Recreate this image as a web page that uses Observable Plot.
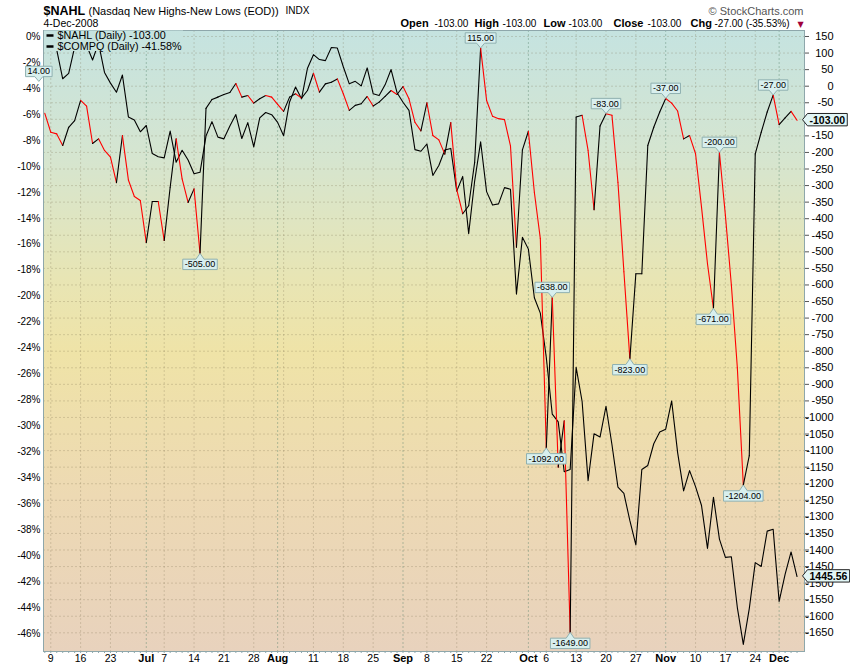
<!DOCTYPE html>
<html><head><meta charset="utf-8">
<script src="https://cdn.jsdelivr.net/npm/d3@7"></script>
<script src="https://cdn.jsdelivr.net/npm/@observablehq/plot@0.6"></script>
<style>
body{margin:0;background:#fff;}
#chart svg{display:block;}
</style>
</head><body><div id="chart"></div>
<script>
// ---------- DATA ----------
const tradingDays = [
"06-06","06-09","06-10","06-11","06-12","06-13","06-16","06-17","06-18","06-19","06-20","06-23","06-24","06-25","06-26","06-27","06-30",
"07-01","07-02","07-03","07-07","07-08","07-09","07-10","07-11","07-14","07-15","07-16","07-17","07-18","07-21","07-22","07-23","07-24","07-25","07-28","07-29","07-30","07-31",
"08-01","08-04","08-05","08-06","08-07","08-08","08-11","08-12","08-13","08-14","08-15","08-18","08-19","08-20","08-21","08-22","08-25","08-26","08-27","08-28","08-29",
"09-02","09-03","09-04","09-05","09-08","09-09","09-10","09-11","09-12","09-15","09-16","09-17","09-18","09-19","09-22","09-23","09-24","09-25","09-26","09-29","09-30",
"10-01","10-02","10-03","10-06","10-07","10-08","10-09","10-10","10-13","10-14","10-15","10-16","10-17","10-20","10-21","10-22","10-23","10-24","10-27","10-28","10-29","10-30","10-31",
"11-03","11-04","11-05","11-06","11-07","11-10","11-11","11-12","11-13","11-14","11-17","11-18","11-19","11-20","11-21","11-24","11-25","11-26","11-28",
"12-01","12-02","12-03","12-04"];

// $NAHL daily values (right axis)
const nahl = [
-82,-139,-144,-179,-124,-104,-43,-60,-173,-159,
-194,-214,-291,-149,-283,-333,-345,-472,-348,-348,
-466,-305,-159,-280,-351,-310,-505,-67,-40,-33,
-25,-19,8,-33,-28,-51,-38,-28,-33,-55,
-76,-33,-23,-36,-13,39,-18,7,12,22,
-23,-73,-58,-53,-31,-60,-48,-31,-13,-25,
-1,-38,-109,-135,-50,-149,-162,-205,-110,-312,
-385,-361,-230,115,-43,-91,-98,-101,-180,-486,
-192,-136,-320,-460,-1092,-638,-1150,-1010,-1649,-93,
-88,-194,-373,-120,-83,-88,-290,-560,-823,-566,
-566,-179,-124,-78,-37,-51,-75,-159,-149,-204,
-365,-536,-671,-200,-390,-600,-850,-1204,-1115,-204,
-139,-78,-27,-116,-96,-76,-103];

// $COMPQ daily closes (left axis, as % performance)
const compq = [
2474.56,2459.46,2448.94,2394.01,2404.35,2454.50,2474.78,2457.73,2429.71,2462.07,2406.09,2385.74,2368.28,2401.26,2321.37,2315.63,2292.98,
2304.97,2251.46,2245.38,2243.32,2294.44,2234.89,2257.85,2239.08,2212.87,2215.71,2284.85,2312.30,2282.78,2279.53,2303.96,2325.88,2280.11,2310.53,2264.22,2319.62,2329.72,2325.55,
2310.96,2285.56,2349.83,2378.37,2355.73,2414.10,2439.95,2430.61,2428.62,2453.67,2452.52,2416.98,2384.36,2389.08,2380.38,2414.71,2365.59,2361.97,2382.46,2411.64,2367.52,
2349.24,2333.73,2259.04,2255.88,2269.76,2209.81,2228.70,2258.22,2261.27,2179.91,2207.90,2098.85,2199.10,2273.90,2178.98,2153.34,2155.68,2186.57,2183.34,1983.73,2091.88,
2069.40,1976.72,1947.39,1862.96,1754.88,1740.33,1645.12,1649.51,1844.25,1779.01,1628.33,1717.71,1711.29,1770.03,1696.68,1615.75,1603.91,1552.03,1505.90,1649.47,1657.21,1698.52,1720.95,
1726.33,1780.12,1681.64,1608.70,1647.40,1616.74,1580.90,1499.21,1596.70,1516.85,1482.05,1483.27,1386.42,1316.12,1384.35,1472.02,1464.73,1532.10,1535.57,
1398.07,1449.80,1492.38,1445.56];

// x-axis ticks
const dayTickDays   = ["06-09","06-16","06-23","07-07","07-14","07-21","07-28","08-11","08-18","08-25","09-08","09-15","09-22","10-06","10-13","10-20","10-27","11-10","11-17","11-24"];
const dayTickLabels = ["9","16","23","7","14","21","28","11","18","25","8","15","22","6","13","20","27","10","17","24"];
const monthTickDays   = ["07-01","08-01","09-02","10-01","11-03","12-01"];
const monthTickLabels = ["Jul","Aug","Sep","Oct","Nov","Dec"];
const extraWeekGridDays = ["08-04"];

// y-axis ticks
const rightTicks = d3.range(-1650, 151, 50);
const rightTicksHidden = [-100];          // fully covered by the last-value tag
const leftTickPcts = d3.range(0, -47, -2);

// swing labels on $NAHL
const calloutHiDays = ["06-05","09-19","10-07","10-20","11-03","11-14","11-28"];
const calloutHiVals = [14, 115, -638, -83, -37, -200, -27];
const calloutLoDays = ["07-15","10-06","10-10","10-24","11-13","11-20"];
const calloutLoVals = [-505, -1092, -1649, -823, -671, -1204];

// ---------- LAYOUT ----------
const W = 850, H = 668;
const mT = 30, mB = 17, mL = 43, mR = 46;
const pctToNahl = p => 150 + 39.2 * p;   // left (%) axis aligned with right axis
const dayIndex = d => d < tradingDays[0] ? -1 : tradingDays.indexOf(d);

const N = nahl.length;
const segs = d3.range(N - 1).map(i => ({x1: i, y1: nahl[i], x2: i + 1, y2: nahl[i + 1], up: nahl[i + 1] >= nahl[i]}));
const base = compq[0];
const compqPct = compq.map(c => (c / base - 1) * 100);
const compqSeries = compqPct.map((p, i) => ({i, v: pctToNahl(p)}));
const his = calloutHiDays.map((d, k) => ({i: dayIndex(d), v: calloutHiVals[k]}));
const los = calloutLoDays.map((d, k) => ({i: dayIndex(d), v: calloutLoVals[k]}));

const last = nahl[N - 1], prev = nahl[N - 2];
const chg = last - prev;
const lastPct = compqPct[compqPct.length - 1];
const f2 = v => v.toFixed(2);

// near-black marker colours used to find groups for box decoration
const ID_HI = "#000001", ID_LO = "#000002", ID_LEG = "#000003", ID_TAG = "#000004";

const font = "'Liberation Sans', Arial, Helvetica, sans-serif";
const T = (txt, o) => Plot.text([txt], {text: d => d, lineAnchor: "middle", ...o});

const plot = Plot.plot({
  width: W, height: H,
  marginTop: mT, marginBottom: mB, marginLeft: mL, marginRight: mR,
  style: {fontFamily: font, background: "#fff", overflow: "visible"},
  x: {type: "linear", domain: [-0.218, 127.25]},
  y: {domain: [-1706.4, 168.1], label: null},
  marks: [
    Plot.frame({fill: "url(#bgGrad)"}),
    Plot.gridY(rightTicks, {stroke: "#7a7050", strokeOpacity: 0.25, strokeDasharray: "2,2"}),
    Plot.gridX([...dayTickDays, ...extraWeekGridDays].map(dayIndex), {stroke: "#7a7050", strokeOpacity: 0.25, strokeDasharray: "2,2"}),
    Plot.gridX(monthTickDays.map(dayIndex), {stroke: "#4f7f6a", strokeOpacity: 0.4, strokeDasharray: "2,2"}),
    Plot.line(compqSeries, {x: "i", y: "v", stroke: "#000", strokeWidth: 1.1}),
    Plot.link(segs, {x1: "x1", y1: "y1", x2: "x2", y2: "y2", stroke: d => d.up ? "#000000" : "#ff0000", strokeWidth: 1.1, strokeLinecap: "round"}),
    Plot.frame({stroke: "#8ea7ab"}),
    // axes
    Plot.axisY(leftTickPcts.map(pctToNahl), {anchor: "left", tickSize: 0, tickPadding: 3, fontSize: 10, label: null,
      tickFormat: v => Math.round((v - 150) / 39.2) + "%"}),
    Plot.axisY(rightTicks, {anchor: "right", tickSize: 4, tickPadding: 25, textAnchor: "end", fontSize: 11, label: null, stroke: "#555",
      tickFormat: d => rightTicksHidden.includes(d) ? "" : String(d)}),
    Plot.axisX(d3.range(0, N), {anchor: "bottom", tickSize: 2, tickFormat: () => "", label: null, stroke: "#8ea7ab"}),
    Plot.axisX(dayTickDays.map(dayIndex), {anchor: "bottom", tickSize: 0, tickPadding: 3, fontSize: 10.5, label: null,
      tickFormat: d => dayTickLabels[dayTickDays.indexOf(tradingDays[d])]}),
    Plot.axisX(monthTickDays.map(dayIndex), {anchor: "bottom", tickSize: 0, tickPadding: 3, fontSize: 11, fontWeight: "bold", label: null,
      tickFormat: d => monthTickLabels[monthTickDays.indexOf(tradingDays[d])]}),
    // legend
    T(`$NAHL (Daily) ${f2(last)}`, {frameAnchor: "top-left", dx: 14, dy: 5.5, textAnchor: "start", fontSize: 10.8, fill: ID_LEG}),
    T(`$COMPQ (Daily) ${f2(lastPct)}%`, {frameAnchor: "top-left", dx: 14, dy: 16.5, textAnchor: "start", fontSize: 10.8, fill: ID_LEG}),
    // header
    T("$NAHL", {frameAnchor: "top-left", dx: 0, dy: -19.5, textAnchor: "start", fontSize: 12.5, fontWeight: "bold"}),
    T("(Nasdaq New Highs-New Lows (EOD))", {frameAnchor: "top-left", dx: 45, dy: -19.5, textAnchor: "start", fontSize: 11}),
    T("INDX", {frameAnchor: "top-left", dx: 242, dy: -19.5, textAnchor: "start", fontSize: 10}),
    T("4-Dec-2008", {frameAnchor: "top-left", dx: 0, dy: -6.9, textAnchor: "start", fontSize: 10.5}),
    T("\u00A9 StockCharts.com", {frameAnchor: "top-right", dx: -1, dy: -19.5, textAnchor: "end", fontSize: 11, fill: "#555"}),
    T("Open", {frameAnchor: "top-left", dx: 357, dy: -7, textAnchor: "start", fontSize: 11, fontWeight: "bold"}),
    T(f2(last), {frameAnchor: "top-left", dx: 391, dy: -6.9, textAnchor: "start", fontSize: 10}),
    T("High", {frameAnchor: "top-left", dx: 431, dy: -7, textAnchor: "start", fontSize: 11, fontWeight: "bold"}),
    T(f2(last), {frameAnchor: "top-left", dx: 459, dy: -6.9, textAnchor: "start", fontSize: 10}),
    T("Low", {frameAnchor: "top-left", dx: 500, dy: -7, textAnchor: "start", fontSize: 11, fontWeight: "bold"}),
    T(f2(last), {frameAnchor: "top-left", dx: 525, dy: -6.9, textAnchor: "start", fontSize: 10}),
    T("Close", {frameAnchor: "top-left", dx: 570, dy: -7, textAnchor: "start", fontSize: 11, fontWeight: "bold"}),
    T(f2(last), {frameAnchor: "top-left", dx: 604, dy: -6.9, textAnchor: "start", fontSize: 10}),
    T("Chg", {frameAnchor: "top-left", dx: 647, dy: -7, textAnchor: "start", fontSize: 11, fontWeight: "bold"}),
    T(`${f2(chg)} (${f2(chg / Math.abs(prev) * 100)}%)`, {frameAnchor: "top-left", dx: 671, dy: -6.9, textAnchor: "start", fontSize: 10}),
    T("\u25BC", {frameAnchor: "top-right", dx: -4, dy: -6.5, textAnchor: "middle", fontSize: 8, fill: "#a0003a", fontFamily: "DejaVu Sans"}),
    // swing callouts
    Plot.text(his, {x: "i", y: "v", text: d => f2(d.v), dy: -10, fontSize: 9, fill: ID_HI}),
    Plot.text(los, {x: "i", y: "v", text: d => f2(d.v), dy: 11, fontSize: 9, fill: ID_LO}),
    // last value tags
    Plot.text([last], {frameAnchor: "right", y: d => d, text: d => f2(d), dx: 5, textAnchor: "start", fontSize: 10.5, fontWeight: "bold", fill: ID_TAG}),
    Plot.text([compq[compq.length - 1]], {frameAnchor: "right", y: () => pctToNahl(lastPct), text: d => f2(d), dx: 5, textAnchor: "start", fontSize: 10.5, fontWeight: "bold", fill: ID_TAG})
  ]
});

const svg = plot.tagName.toLowerCase() === "svg" ? plot : plot.querySelector("svg");
document.getElementById("chart").append(plot);

// ---------- decorations (gradient, legend box, callout boxes) ----------
const NS = "http://www.w3.org/2000/svg";
function el(name, attrs) { const e = document.createElementNS(NS, name); for (const k in attrs) e.setAttribute(k, attrs[k]); return e; }
const defs = el("defs", {});
const grad = el("linearGradient", {id: "bgGrad", gradientUnits: "userSpaceOnUse", x1: 0, y1: mT, x2: 0, y2: H - mB});
[[0, "#c5e3e0"], [0.2, "#d5e5d0"], [0.4, "#e8e5b4"], [0.52, "#efe3a7"], [0.75, "#edd9b3"], [1, "#e8d2bd"]]
  .forEach(([o, c]) => grad.appendChild(el("stop", {offset: o, "stop-color": c})));
defs.appendChild(grad);
svg.insertBefore(defs, svg.firstChild);

function groupsByFill(id) {
  return [...svg.querySelectorAll("g, text")].filter(n => (n.getAttribute("fill") || "").toLowerCase() === id);
}
function textsOf(id) {
  const out = [];
  groupsByFill(id).forEach(n => { if (n.tagName.toLowerCase() === "text") out.push(n); else n.querySelectorAll("text").forEach(t => out.push(t)); });
  return [...new Set(out)];
}

// legend background + dashes
const legTexts = textsOf(ID_LEG);
legTexts.forEach(t => t.setAttribute("fill", "#000"));
groupsByFill(ID_LEG).forEach(n => n.setAttribute("fill", "#000"));
if (legTexts.length) {
  const firstG = legTexts[0].closest("g") || legTexts[0];
  const parent = firstG.parentNode;
  parent.insertBefore(el("rect", {x: mL + 1, y: mT + 0.5, width: 139, height: 20.5, fill: "url(#bgGrad)"}), firstG);
  parent.insertBefore(el("line", {x1: mL + 3.5, x2: mL + 10.5, y1: mT + 5.5, y2: mT + 5.5, stroke: "#000", "stroke-width": 2.5}), firstG);
  parent.insertBefore(el("line", {x1: mL + 3.5, x2: mL + 10.5, y1: mT + 16.5, y2: mT + 16.5, stroke: "#000", "stroke-width": 2.5}), firstG);
}

function boxify(id, kind, fill, stroke) {
  const texts = textsOf(id);
  texts.forEach(t => {
    const b = t.getBBox();
    const x0 = b.x - 2, x1 = b.x + b.width + 2, y0 = b.y - 0.2, y1 = b.y + b.height + 0.2;
    const cx = (x0 + x1) / 2, cy = (y0 + y1) / 2;
    let d;
    if (kind === "hi") d = `M${x0},${y0}H${x1}V${y1}H${cx + 4}L${cx},${cy + 10}L${cx - 4},${y1}H${x0}Z`;
    else if (kind === "lo") d = `M${x0},${y1}H${x1}V${y0}H${cx + 4}L${cx},${cy - 11}L${cx - 4},${y0}H${x0}Z`;
    else d = `M${x0},${y0}H${x1}V${y1}H${x0}L${x0 - 5},${cy}Z`;
    const p = el("path", {d, fill, stroke, "stroke-width": 1});
    const tr = t.getAttribute("transform");
    if (tr) p.setAttribute("transform", tr);
    t.parentNode.insertBefore(p, t);
    t.setAttribute("fill", "#000");
  });
  groupsByFill(id).forEach(n => n.setAttribute("fill", "#000"));
}
boxify(ID_HI, "hi", "#d8efee", "#8fb0b0");
boxify(ID_LO, "lo", "#d8efee", "#8fb0b0");
boxify(ID_TAG, "tag", "#e2f6f6", "#222");
</script>
</body></html>
